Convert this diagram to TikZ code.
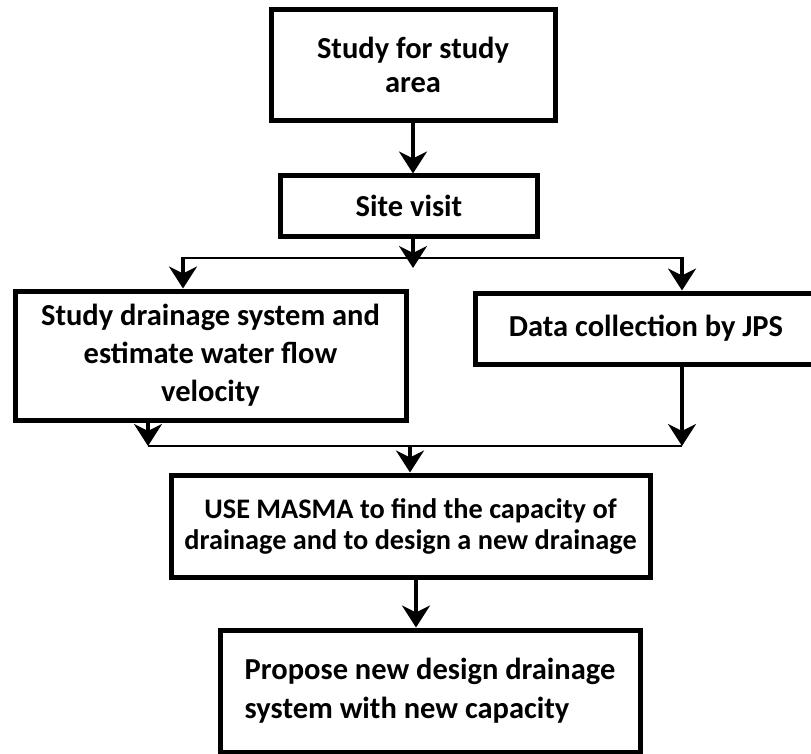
\documentclass[tikz,border=0pt]{standalone}
\usepackage{fontspec}
\setmainfont{Carlito}
\usetikzlibrary{arrows.meta}
\tikzset{
  box/.style={draw=black, line width=5pt, fill=white, align=center, inner sep=0pt,
    font=\fontsize{30.5}{38}\selectfont\bfseries},
  arr/.style={line width=3.5pt, -{Stealth[length=22pt,width=28pt,inset=7pt]}},
  hline/.style={line width=2.5pt}
}
\begin{document}
\begin{tikzpicture}[x=1pt,y=-1pt]
\useasboundingbox[fill=white] (0,0) rectangle (811,754);
\node[box, minimum width=284pt, minimum height=111pt, font=\fontsize{30.5}{34}\selectfont\bfseries] (b1) at (413,65) {Study for study\\area};
\node[box, minimum width=257pt, minimum height=60pt] (b2) at (409,206) {Site visit};
\node[box, minimum width=391pt, minimum height=129pt] (b3) at (210.5,355.5) {Study drainage system and\\estimate water flow\\velocity};
\node[box, minimum width=342pt, minimum height=71pt] (b4) at (646,328.5) {Data collection by JPS};
\node[box, minimum width=479pt, minimum height=102pt, font=\fontsize{28.3}{31}\selectfont\bfseries] (b5) at (410.5,526) {USE MASMA to find the capacity of\\drainage and to design a new drainage};
\node[box, minimum width=420pt, minimum height=122pt, align=left, font=\fontsize{30.5}{39}\selectfont\bfseries] (b6) at (430,691) {Propose new design drainage\\system with new capacity};
% junctions
\coordinate (t1) at (413,268);
\coordinate (j1L) at (183,258);
\coordinate (j1R) at (682,258);
\coordinate (j2L) at (148,446);
\coordinate (j2R) at (682,446);
\coordinate (j2M) at (410,446);
\coordinate (v5) at (416,0);
% connectors
\draw[arr] (b1.south) -- (b1.south |- b2.north);
\draw[hline] (j1L) -- (j1R);
\draw[arr] (b2.south -| t1) -- (t1);
\draw[arr, shorten <=-1pt] (j1L) -- (j1L |- b3.north);
\draw[arr, shorten <=-1pt] (j1R) -- (j1R |- b4.north);
\draw[arr] (b3.south -| j2L) -- (j2L);
\draw[arr] (b4.south -| j2R) -- (j2R);
\draw[hline] (j2L) -- (j2R);
\draw[arr, shorten <=-1pt] (j2M) -- (j2M |- b5.north);
\draw[arr] (b5.south -| v5) -- (b6.north -| v5);
\end{tikzpicture}
\end{document}
